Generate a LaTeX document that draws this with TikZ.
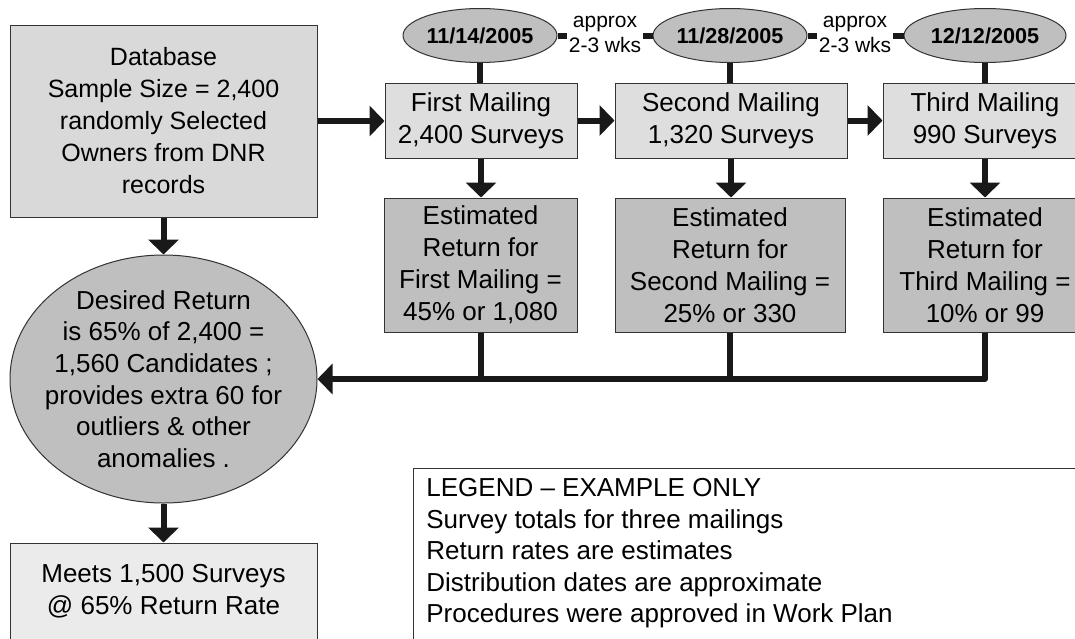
\documentclass[tikz,border=0pt]{standalone}
\usepackage{fontspec}
\setmainfont{Liberation Sans}
\usetikzlibrary{arrows.meta,shapes.geometric}

\tikzset{
  box/.style={draw=black!80, line width=0.5pt, rectangle, align=center, inner sep=0pt, font=\fontsize{13}{16}\selectfont},
  mailbox/.style={box, fill=black!13, minimum height=37.5pt},
  estbox/.style={box, fill=black!25, minimum height=67pt},
  dateoval/.style={draw=black!80, line width=0.5pt, ellipse, fill=black!25, inner sep=0pt, minimum height=27pt, font=\fontsize{10.8}{12}\selectfont\bfseries},
  gap/.style={fill=white, align=center, inner sep=1pt, font=\fontsize{10.5}{12.5}\selectfont},
  link/.style={line width=3pt, draw=black!90, line join=round},
  flow/.style={link, -{Triangle[length=7.5pt,width=15pt]}},
}

\begin{document}
\begin{tikzpicture}[x=0.5pt,y=-0.5pt]
\useasboundingbox (0,0) rectangle (1075,638);
\clip (0,0) rectangle (1075,638);

		% left column
		\node[box, fill=black!15, minimum width=153.5pt, minimum height=96pt, font=\fontsize{12.5}{16}\selectfont] (db) at (163.5,121) {Database\\Sample Size = 2,400\\randomly Selected\\Owners from DNR\\records};
		\node[draw=black!80, line width=0.5pt, ellipse, fill=black!25, minimum width=153.5pt, minimum height=124pt] (goal) at (163.5,379) {};
		\node[align=center, font=\fontsize{13}{15.8}\selectfont] (goaltext) at (goal) {Desired Return\\is 65\% of 2,400 =\\1,560 Candidates ;\\provides extra 60 for\\outliers \& other\\anomalies .};
		\node[box, fill=black!8, minimum width=153.5pt, minimum height=48.5pt] (meets) at (163.5,591.5) {Meets 1,500 Surveys\\@ 65\% Return Rate};

		% mailings
		\node[mailbox, minimum width=96pt]  (m1) at (481,120.5) {First Mailing\\2,400 Surveys};
		\node[mailbox, minimum width=116pt] (m2) at (731,120.5) {Second Mailing\\1,320 Surveys};
		\node[mailbox, minimum width=102pt] (m3) at (985,120.5) {Third Mailing\\990 Surveys};

		\node[estbox, minimum width=96.5pt] (r1) at (480.5,265) {Estimated\\Return for\\First Mailing =\\45\% or 1,080};
		\node[estbox, minimum width=115pt]  (r2) at (730,265) {Estimated\\Return for\\Second Mailing =\\25\% or 330};
		\node[estbox, minimum width=102pt]  (r3) at (985,265) {Estimated\\Return for\\Third Mailing =\\10\% or 99};

		% dates
		\node[dateoval, minimum width=77pt] (d1) at (480,35.5) {11/14/2005};
		\node[dateoval, minimum width=77pt] (d2) at (730,35.5) {11/28/2005};
		\node[dateoval, minimum width=81pt] (d3) at (985,35.5) {12/12/2005};

		\draw[link] (d1) -- (d2); \draw[link] (d2) -- (d3);
		\node[gap] (g1) at (605,34) {approx\\2-3 wks};
		\node[gap] (g2) at (855,34) {approx\\2-3 wks};

		\draw[link] (d1) -- (d1 |- m1.north);
		\draw[link] (d2) -- (d2 |- m2.north);
		\draw[link] (d3) -- (d3 |- m3.north);

		\draw[flow] (db.east) -- (db.east -| m1.west);
		\draw[flow] (m1) -- (m2); \draw[flow] (m2) -- (m3);
		\draw[flow] (m1) -- (m1 |- r1.north);
		\draw[flow] (m2) -- (m2 |- r2.north);
		\draw[flow] (m3) -- (m3 |- r3.north);

		\draw[link] (r1.south) -- (r1.south |- goal.east);
		\draw[link] (r2.south) -- (r2.south |- goal.east);
		\draw[flow] (r3.south) |- (goal.east);

		\draw[flow] (db) -- (goal);
		\draw[flow] (goal) -- (meets);

		% legend
		\node[draw=black!80, line width=0.5pt, anchor=north west, minimum width=340pt, minimum height=100pt] (legend) at (413,468) {};
		\node[anchor=north west, align=left, inner sep=0pt, font=\fontsize{13}{15.8}\selectfont] (legendtext) at ([xshift=6.5pt,yshift=-5pt]legend.north west) {LEGEND -- EXAMPLE ONLY\\Survey totals for three mailings\\Return rates are estimates\\Distribution dates are approximate\\Procedures were approved in Work Plan};

\end{tikzpicture}
\end{document}
